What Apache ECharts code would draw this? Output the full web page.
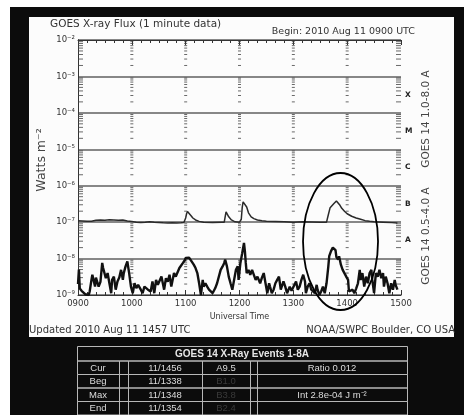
<!DOCTYPE html>
<html><head><meta charset="utf-8">
<script src="https://cdn.jsdelivr.net/npm/echarts@6/dist/echarts.min.js"></script>
<style>html,body{margin:0;padding:0;background:#fff;}#c{width:464px;height:415px;}</style>
</head><body><div id="c"></div>
<script>
// ---------- data ----------
const hourLabels = ['0900','1000','1100','1200','1300','1400','1500'];
const yTickLabels = ['10\u207B\u2079','10\u207B\u2078','10\u207B\u2077','10\u207B\u2076','10\u207B\u2075','10\u207B\u2074','10\u207B\u00B3','10\u207B\u00B2'];
const classLabels = ['', 'A', 'B', 'C', 'M', 'X', ''];
const minorMantissas = [2,3,4,5,6,7,8,9];
const decadeExponents = [-9,-8,-7,-6,-5,-4,-3];
const hourMinutes = [60,120,180,240,300];

// GOES 14 1.0-8.0 A (minutes after 0900 UTC, W m^-2)
const longTimes = [0,5,10,15,20,25,30,35,40,45,50,55,60,65,70,75,77,80,85,90,95,100,105,110,115,118,
  120,121,122,124,126,128,131,135,140,150,160,163,164,165,166,168,171,175,180,182,183,184,186,188,190,193,196,200,205,210,220,230,240,250,260,270,277,
  279,281,283,285,288,290,292,294,297,300,305,310,315,320,325,330,340,350,356];
const longFlux = [1.1e-7,1.08e-7,1.05e-7,1.06e-7,1.12e-7,1.15e-7,1.13e-7,1.17e-7,1.15e-7,1.12e-7,1.14e-7,1.08e-7,1.04e-7,1.0e-7,0.98e-7,1.0e-7,1.08e-7,1.03e-7,1.0e-7,0.98e-7,0.96e-7,0.95e-7,0.96e-7,0.95e-7,0.96e-7,0.98e-7,
  1.3e-7,1.7e-7,1.95e-7,1.8e-7,1.5e-7,1.3e-7,1.15e-7,1.05e-7,1.0e-7,0.98e-7,1.0e-7,1.0e-7,1.4e-7,1.9e-7,1.8e-7,1.4e-7,1.15e-7,1.02e-7,1.0e-7,1.2e-7,2.5e-7,3.6e-7,3.7e-7,2.6e-7,1.8e-7,1.4e-7,1.25e-7,1.15e-7,1.1e-7,1.06e-7,1.04e-7,1.02e-7,1.0e-7,1.02e-7,1.01e-7,1.0e-7,1.0e-7,
  1.6e-7,2.5e-7,2.8e-7,3.2e-7,3.8e-7,3.4e-7,2.9e-7,2.4e-7,2.0e-7,1.7e-7,1.45e-7,1.3e-7,1.2e-7,1.1e-7,1.06e-7,1.03e-7,1.0e-7,0.97e-7,0.95e-7];

// GOES 14 0.5-4.0 A
const shortTimes = [0,1,2,4,6,8,10,12,13,15,16,18,19,20,22,23,25,27,28,29,31,33,35,37,38,40,42,44,46,48,50,51,53,55,57,59,
  61,63,65,67,70,72,74,76,78,80,81,83,85,87,89,91,93,96,98,100,102,104,107,109,111,113,115,117,119,120,
  122,124,126,129,131,133,135,137,139,140,142,144,146,148,150,153,155,157,159,161,163,164,166,168,170,172,174,176,178,179,
  181,183,185,186,187,188,190,192,194,196,198,200,203,205,207,209,211,213,214,216,218,220,222,224,226,229,231,233,236,238,240,
  243,245,247,249,251,253,254,256,258,260,262,264,266,267,269,271,273,275,277,279,280,282,284,286,287,288,290,291,293,295,297,299,
  301,302,304,306,308,310,312,314,315,317,319,321,323,325,327,328,330,332,334,336,338,340,341,343,345,347,349,351,353,354,356];
const shortFlux = [2.0e-9,5.0e-9,1.5e-9,1.3e-9,1.25e-9,1.05e-9,1.0e-9,1.0e-9,1.25e-9,2.6e-9,3.6e-9,4.0e-9,1.7e-9,3.0e-9,3.2e-9,1.7e-9,2.3e-9,7.6e-9,5.5e-9,4.9e-9,2.9e-9,4.0e-9,2.1e-9,1.12e-9,2.6e-9,3.2e-9,1.4e-9,2.35e-9,3.0e-9,4.9e-9,2.6e-9,4.0e-9,6.1e-9,8.4e-9,4.0e-9,1.7e-9,
  1.12e-9,2.1e-9,1.55e-9,1.9e-9,1.4e-9,1.12e-9,1.7e-9,1.9e-9,1.4e-9,1.55e-9,1.25e-9,2.35e-9,1.12e-9,2.6e-9,1.9e-9,2.1e-9,3.2e-9,1.4e-9,2.9e-9,2.3e-9,3.6e-9,1.7e-9,4.0e-9,3.2e-9,4.2e-9,5.5e-9,6.0e-9,7.6e-9,9.0e-9,1.04e-8,
  9.5e-9,1.05e-8,9.4e-9,6.8e-9,5.5e-9,4.0e-9,2.1e-9,1.0e-9,2.6e-9,1.7e-9,2.1e-9,1.7e-9,1.4e-9,1.55e-9,1.12e-9,1.55e-9,2.1e-9,2.35e-9,4.9e-9,6.0e-9,7.6e-9,9.4e-9,6.1e-9,3.2e-9,2.1e-9,1.4e-9,1.25e-9,4.9e-9,6.1e-9,2.6e-9,
  7.6e-9,1.4e-8,2.7e-8,1.6e-8,7.6e-9,4.0e-9,4.9e-9,3.6e-9,4.9e-9,4.5e-9,2.6e-9,3.2e-9,2.1e-9,3.0e-9,4.0e-9,2.1e-9,1.12e-9,2.1e-9,1.7e-9,1.12e-9,1.4e-9,2.1e-9,2.6e-9,3.2e-9,1.4e-9,2.35e-9,1.7e-9,1.12e-9,1.7e-9,1.3e-9,1.25e-9,
  2.35e-9,1.4e-9,1.7e-9,2.6e-9,3.6e-9,2.35e-9,1.12e-9,1.7e-9,2.1e-9,1.4e-9,1.3e-9,1.12e-9,1.9e-9,1.4e-9,1.0e-9,1.25e-9,1.7e-9,1.12e-9,2.1e-9,6.1e-9,1.16e-8,1.6e-8,2.0e-8,2.2e-8,1.7e-8,1.1e-8,9.4e-9,1.16e-8,6.8e-9,4.9e-9,5.5e-9,3.2e-9,
  2.6e-9,1.25e-9,1.12e-9,1.4e-9,1.12e-9,1.5e-9,2.1e-9,4.9e-9,2.6e-9,4.0e-9,1.7e-9,3.2e-9,2.1e-9,4.0e-9,4.9e-9,2.6e-9,1.12e-9,4.0e-9,3.2e-9,4.9e-9,2.9e-9,4.0e-9,1.7e-9,3.2e-9,2.1e-9,1.12e-9,2.1e-9,1.4e-9,2.6e-9,1.9e-9,1.4e-9];

// annotation ellipse centre (minute, flux)
const ellipseCenter = [292.6, 2.94e-8];

// event table
const tableTitle = 'GOES 14 X-Ray Events 1-8A';
const tableRowLabels = ['Cur','Beg','Max','End'];
const tableTimes = ['11/1456','11/1338','11/1348','11/1354'];
const tableClasses = ['A9.5','B1.0','B3.8','B2.4'];
const tableNotes = ['Ratio 0.012','','Int 2.8e-04 J m\u207B\u00B2',''];

// ---------- chart ----------
const FONT = 'DejaVu Sans';
const TFONT = 'Liberation Sans';
const minorValues = [];
decadeExponents.forEach(e => minorMantissas.forEach(m => minorValues.push(m * Math.pow(10, e))));
const hourColumnTicks = [];
hourMinutes.forEach(h => minorValues.forEach(v => hourColumnTicks.push([h, v])));
const leftComb = minorValues.map(v => [0, v]);
const rightComb = minorValues.map(v => [360, v]);

const graphics = [
  {type:'rect', z:-10, silent:true, shape:{x:10,y:7,width:454,height:408}, style:{fill:'#0c0c0c'}},
  {type:'rect', z:-9, silent:true, shape:{x:29,y:17,width:425,height:320}, style:{fill:'#fcfcfc'}},
  {type:'text', z:10, x:50, y:24, style:{text:'GOES X-ray Flux (1 minute data)', fontFamily:FONT, fontSize:10.5, fill:'#333', align:'left', verticalAlign:'middle'}},
  {type:'text', z:10, x:415, y:32, style:{text:'Begin: 2010 Aug 11 0900 UTC', fontFamily:FONT, fontSize:9.5, fill:'#333', align:'right', verticalAlign:'middle'}},
  {type:'text', z:10, x:29, y:330, style:{text:'Updated 2010 Aug 11 1457 UTC', fontFamily:FONT, fontSize:10, fill:'#333', align:'left', verticalAlign:'middle'}},
  {type:'text', z:10, x:455, y:330, style:{text:'NOAA/SWPC Boulder, CO USA', fontFamily:FONT, fontSize:10, fill:'#333', align:'right', verticalAlign:'middle'}},
  {type:'text', z:10, x:42, y:160, rotation:Math.PI/2, style:{text:'Watts m\u207B\u00B2', fontFamily:FONT, fontSize:12.5, fill:'#444', align:'center', verticalAlign:'middle'}},
  {type:'text', z:10, x:426, y:119, rotation:Math.PI/2, style:{text:'GOES 14 1.0-8.0 A', fontFamily:FONT, fontSize:10.5, fill:'#444', align:'center', verticalAlign:'middle'}},
  {type:'text', z:10, x:426, y:236, rotation:Math.PI/2, style:{text:'GOES 14 0.5-4.0 A', fontFamily:FONT, fontSize:10.5, fill:'#444', align:'center', verticalAlign:'middle'}}
];

// table
const colX = [77,119,128,202,250,257,407];
const tTop = 346.5, titleH = 14.5, rowH = 13.5;
const lineCol = '#b8b8b8';
graphics.push({type:'rect', z:10, shape:{x:colX[0]+0.5, y:tTop, width:colX[6]-colX[0], height:titleH}, style:{fill:'none', stroke:lineCol, lineWidth:1}});
graphics.push({type:'text', z:11, x:(colX[0]+colX[6])/2, y:tTop+titleH/2+0.5, style:{text:tableTitle, fontFamily:TFONT, fontWeight:'bold', fontSize:10, fill:'#e6e6e6', align:'center', verticalAlign:'middle'}});
tableRowLabels.forEach((lab, r) => {
  const y0 = tTop + titleH + r*rowH;
  for (let c = 0; c < 6; c++) {
    graphics.push({type:'rect', z:10, shape:{x:colX[c]+0.5, y:y0, width:colX[c+1]-colX[c], height:rowH}, style:{fill:'none', stroke:lineCol, lineWidth:1}});
  }
  const cy = y0 + rowH/2 + 0.5;
  const cells = [[0, lab, '#dcdcdc'], [2, tableTimes[r], '#dcdcdc'], [3, tableClasses[r], r === 0 ? '#dcdcdc' : '#3a3a3a'], [5, tableNotes[r], '#dcdcdc']];
  cells.forEach(([c, txt, col]) => {
    if (!txt) return;
    graphics.push({type:'text', z:11, x:(colX[c]+colX[c+1])/2, y:cy, style:{text:txt, fontFamily:TFONT, fontSize:9.5, fill:col, align:'center', verticalAlign:'middle'}});
  });
});

const chart = echarts.init(document.getElementById('c'), null, {renderer:'canvas'});
const axisCol = '#333';
chart.setOption({
  animation:false,
  backgroundColor:'#fff',
  grid:{left:78, top:40, width:323, height:255, containLabel:false},
  xAxis:[{
    type:'value', position:'bottom', min:0, max:360, interval:60,
    axisLine:{show:true, lineStyle:{color:axisCol, width:1}},
    axisTick:{show:true, inside:true, length:5, lineStyle:{color:axisCol}},
    minorTick:{show:true, splitNumber:6, length:3, lineStyle:{color:axisCol}},
    splitLine:{show:false},
    axisLabel:{formatter:v => hourLabels[Math.round(v/60)], fontFamily:FONT, fontSize:8.5, color:'#333', margin:4},
    name:'Universal Time', nameLocation:'middle', nameGap:15,
    nameTextStyle:{fontFamily:FONT, fontSize:8, color:'#333'}
  },{
    type:'value', position:'top', min:0, max:360, interval:60,
    axisLine:{show:true, lineStyle:{color:axisCol, width:1}},
    axisTick:{show:true, inside:true, length:5, lineStyle:{color:axisCol}},
    minorTick:{show:true, splitNumber:6, length:3, lineStyle:{color:axisCol}},
    splitLine:{show:false}, axisLabel:{show:false}
  }],
  yAxis:[{
    type:'log', logBase:10, min:1e-9, max:1e-2, splitNumber:7, position:'left',
    axisLine:{show:true, lineStyle:{color:axisCol, width:1}},
    axisTick:{show:false},
    splitLine:{show:true, lineStyle:{color:'#878787', width:1.8}},
    axisLabel:{formatter:v => yTickLabels[Math.round(Math.log10(v)) + 9], fontFamily:FONT, fontSize:8.5, color:'#333', margin:3}
  },{
    type:'category', position:'right', data:classLabels, boundaryGap:true,
    axisLine:{show:true, lineStyle:{color:axisCol, width:1}},
    axisTick:{show:false}, splitLine:{show:false},
    axisLabel:{fontFamily:FONT, fontWeight:'bold', fontSize:7.5, color:'#222', margin:4}
  }],
  graphic:{elements:graphics},
  series:[
    {type:'scatter', data:hourColumnTicks, symbol:'rect', symbolSize:[3,1], itemStyle:{color:'#444'}, silent:true, clip:false, z:1},
    {type:'scatter', data:leftComb, symbol:'rect', symbolSize:[5,1], symbolOffset:[2.5,0], itemStyle:{color:'#444'}, silent:true, clip:false, z:1},
    {type:'scatter', data:rightComb, symbol:'rect', symbolSize:[5,1], symbolOffset:[-2.5,0], itemStyle:{color:'#444'}, silent:true, clip:false, z:1},
    {type:'line', name:'GOES 14 1.0-8.0 A', data:longTimes.map((t,i)=>[t,longFlux[i]]), showSymbol:false, lineStyle:{color:'#2a2a2a', width:1.5}, z:3},
    {type:'line', name:'GOES 14 0.5-4.0 A', data:shortTimes.map((t,i)=>[t,shortFlux[i]]), showSymbol:false, lineStyle:{color:'#111', width:2.4}, z:3},
    {type:'custom', data:[ellipseCenter], clip:false, z:5, silent:true,
      renderItem:(params, api) => {
        const p = api.coord([api.value(0), api.value(1)]);
        return {type:'ellipse', shape:{cx:p[0], cy:p[1], rx:37.5, ry:68.5}, style:{fill:'none', stroke:'#000', lineWidth:1.8}};
      }}
  ]
});
</script></body></html>
